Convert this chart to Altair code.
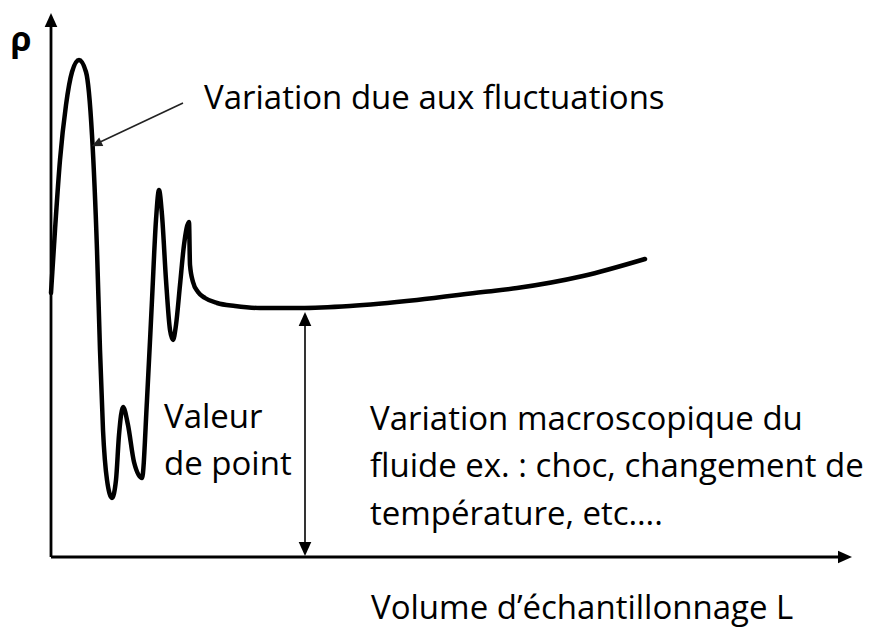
import altair as alt
import pandas as pd

# ---- curve: sample volume L vs density rho (schematic units, origin at axes crossing)
curve_L = [0, 4, 9, 15, 21, 28, 35, 41, 46, 49, 52, 56, 61, 65, 68, 72, 77, 83, 91,
           96, 101, 105, 108, 111, 115, 119, 122, 125, 129, 133, 138, 139, 142, 147,
           154, 166, 184, 209, 249, 299, 366, 432, 466, 532, 594]
curve_rho = [264, 327, 397, 452, 485, 497, 485, 422, 307, 207, 127, 77, 59, 77, 122, 150,
             132, 95, 79, 157, 257, 337, 367, 342, 277, 227, 217, 232, 272, 312, 335,
             292, 275, 265, 259, 254, 251, 249, 249, 251, 257, 265, 269, 281, 298]

# axes extents
axis_L_max = [801]
axis_rho_max = [544]

# annotation texts
labels = ["ρ", "Variation due aux fluctuations", "Valeur", "de point",
          "Variation macroscopique du", "fluide ex. : choc, changement de",
          "température, etc….", "Volume d’échantillonnage L"]
label_L = [-30, 153, 113, 113, 319, 319, 319, 320]
label_rho = [516, 458, 139, 92, 137, 90, 42, -52]
label_bold = [True, False, False, False, False, False, False, False]

# macroscopic-value double arrow
macro_L = [254]
macro_rho = [1, 245]

# pointer arrow (from text to curve)
ptr_L = [132, 41]
ptr_rho = [454, 411]

xs = alt.Scale(domain=[-43, 818], nice=False, zero=False)
ys = alt.Scale(domain=[-73, 549], nice=False, zero=False)

curve_df = pd.DataFrame({"L": curve_L, "rho": curve_rho, "o": range(len(curve_L))})
curve = alt.Chart(curve_df).mark_line(color="black", strokeWidth=4.5,
                                      interpolate="monotone", strokeCap="round").encode(
    x=alt.X("L:Q", scale=xs, axis=None),
    y=alt.Y("rho:Q", scale=ys, axis=None),
    order="o:Q",
)

axes_df = pd.DataFrame({
    "L": [0, 0], "L2": [0, axis_L_max[0] - 6],
    "rho": [0, 0], "rho2": [axis_rho_max[0] - 6, 0],
})
axes = alt.Chart(axes_df).mark_rule(color="black", strokeWidth=2.8).encode(
    x=alt.X("L:Q", scale=xs, axis=None), x2="L2:Q",
    y=alt.Y("rho:Q", scale=ys, axis=None), y2="rho2:Q",
)

head_path = "M0,-1L0.9,1L-0.9,1Z"
heads_df = pd.DataFrame({
    "L": [0, axis_L_max[0] - 7, macro_L[0], macro_L[0]],
    "rho": [axis_rho_max[0] - 7, 0, macro_rho[1] - 7, macro_rho[0] + 7],
    "ang": [0, 90, 0, 180],
})
heads = alt.Chart(heads_df).mark_point(shape=head_path, filled=True, color="black",
                                       size=196, opacity=1).encode(
    x=alt.X("L:Q", scale=xs, axis=None),
    y=alt.Y("rho:Q", scale=ys, axis=None),
    angle=alt.Angle("ang:Q", scale=None),
)

macro_df = pd.DataFrame({"L": macro_L, "rho": [macro_rho[0] + 8], "rho2": [macro_rho[1] - 8]})
macro = alt.Chart(macro_df).mark_rule(color="black", strokeWidth=1.6).encode(
    x=alt.X("L:Q", scale=xs, axis=None),
    y=alt.Y("rho:Q", scale=ys, axis=None), y2="rho2:Q",
)

ptr_df = pd.DataFrame({"L": [ptr_L[0]], "L2": [ptr_L[1] + 6], "rho": [ptr_rho[0]], "rho2": [ptr_rho[1] + 3]})
ptr = alt.Chart(ptr_df).mark_rule(color="#222222", strokeWidth=1.6).encode(
    x=alt.X("L:Q", scale=xs, axis=None), x2="L2:Q",
    y=alt.Y("rho:Q", scale=ys, axis=None), y2="rho2:Q",
)
ptr_head_df = pd.DataFrame({"L": [ptr_L[1] + 4.5], "rho": [ptr_rho[1] + 2.1], "ang": [244.5]})
ptr_head = alt.Chart(ptr_head_df).mark_point(shape=head_path, filled=True, color="#222222",
                                             size=110, opacity=1).encode(
    x=alt.X("L:Q", scale=xs, axis=None),
    y=alt.Y("rho:Q", scale=ys, axis=None),
    angle=alt.Angle("ang:Q", scale=None),
)

lab_df = pd.DataFrame({"t": labels, "L": label_L, "rho": label_rho, "b": label_bold})
text_reg = alt.Chart(lab_df[~lab_df.b]).mark_text(
    align="left", baseline="middle", font="Open Sans", fontSize=33, color="black").encode(
    x=alt.X("L:Q", scale=xs, axis=None),
    y=alt.Y("rho:Q", scale=ys, axis=None),
    text="t:N",
)
text_bold = alt.Chart(lab_df[lab_df.b]).mark_text(
    align="center", baseline="middle", font="Open Sans", fontSize=34, fontWeight="bold",
    color="black").encode(
    x=alt.X("L:Q", scale=xs, axis=None),
    y=alt.Y("rho:Q", scale=ys, axis=None),
    text="t:N",
)

chart = alt.layer(axes, macro, ptr, curve, heads, ptr_head, text_reg, text_bold).properties(
    width=861, height=622, padding=0, autosize="none", background="white"
).configure_view(stroke=None)

chart.save("out.html", embed_options={"renderer": "svg", "actions": False})
